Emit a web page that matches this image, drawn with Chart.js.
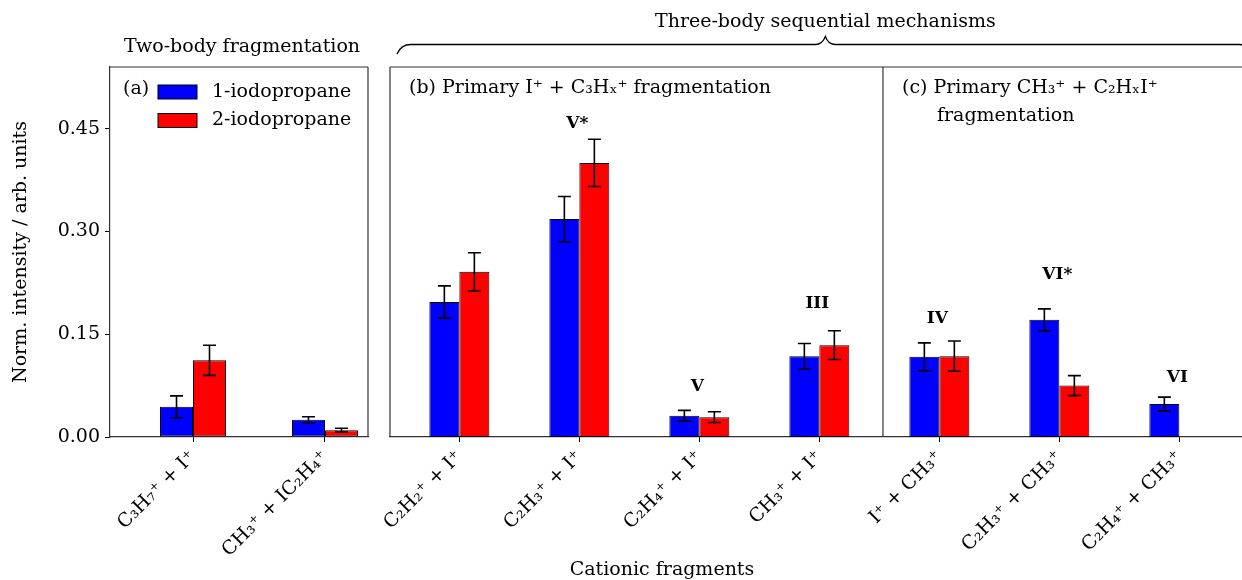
<!DOCTYPE html>
<html>
<head>
<meta charset="utf-8">
<script src="https://cdn.jsdelivr.net/npm/chart.js@4.4.0/dist/chart.umd.min.js"></script>
<style>
  html, body { margin: 0; padding: 0; background: #fff; overflow: hidden; }
  #wrap { position: relative; width: 1242px; height: 580px; overflow: hidden; }
  #chart-a { position: absolute; left: 0; top: 0; }
  #chart-b { position: absolute; left: 380px; top: 0; }
</style>
</head>
<body>
<div id="wrap">
  <canvas id="chart-a" width="380" height="580"></canvas>
  <canvas id="chart-b" width="880" height="580"></canvas>
</div>
<script>
/* ─── Data ─────────────────────────────────────────────── */
const TWO_BODY_LABELS = ['C₃H₇⁺ + I⁺', 'CH₃⁺ + IC₂H₄⁺'];
const TWO_BODY_1      = [0.044, 0.025];
const TWO_BODY_1_ERR  = [0.016, 0.0046];
const TWO_BODY_2      = [0.112, 0.010];
const TWO_BODY_2_ERR  = [0.022, 0.0027];

const THREE_BODY_LABELS = ['C₂H₂⁺ + I⁺', 'C₂H₃⁺ + I⁺', 'C₂H₄⁺ + I⁺', 'CH₃⁺ + I⁺',
                           'I⁺ + CH₃⁺', 'C₂H₃⁺ + CH₃⁺', 'C₂H₄⁺ + CH₃⁺'];
const THREE_BODY_1     = [0.197, 0.318, 0.031, 0.118, 0.117, 0.171, 0.048];
const THREE_BODY_1_ERR = [0.0235, 0.033, 0.0078, 0.0185, 0.0204, 0.016, 0.0102];
const THREE_BODY_2     = [0.241, 0.400, 0.029, 0.134, 0.118, 0.075, 0];
const THREE_BODY_2_ERR = [0.028, 0.0345, 0.0078, 0.021, 0.022, 0.0146, 0];

const MECH_LABELS = ['', 'V*', 'V', 'III', 'IV', 'VI*', 'VI'];
const MECH_Y      = [null, 0.457, 0.073, 0.194, 0.173, 0.237, 0.087];

const SERIES = ['1-iodopropane', '2-iodopropane'];
const Y_TICKS = [0, 0.15, 0.30, 0.45];

/* ─── Style ────────────────────────────────────────────── */
const FONT   = "'DejaVu Serif', serif";
const BLUE   = '#0000ff';
const RED    = '#ff0000';
const SPINE  = '#333333';
const FS     = 19;

Chart.defaults.font.family = FONT;
Chart.defaults.color = '#000';
Chart.defaults.animation = false;

/* ─── Helpers ──────────────────────────────────────────── */
function toPoints(vals) { return vals.map((v, i) => ({ x: i, y: v })); }

function barSet(label, vals, errs, color) {
  return {
    label,
    data: toPoints(vals),
    errors: errs,
    backgroundColor: color,
    borderColor: '#000',
    borderWidth: 1,
    borderSkipped: false,
    categoryPercentage: 0.5,
    barPercentage: 1,
  };
}

// error bars drawn through the chart's own scales
const errorBars = {
  id: 'errorBars',
  afterDatasetsDraw(chart) {
    const ctx = chart.ctx, ys = chart.scales.y;
    ctx.save();
    ctx.strokeStyle = '#000';
    ctx.lineWidth = 1.6;
    chart.data.datasets.forEach((ds, di) => {
      const meta = chart.getDatasetMeta(di);
      meta.data.forEach((bar, i) => {
        const err = ds.errors[i];
        if (!err) return;
        const v = ds.data[i].y;
        const top = ys.getPixelForValue(v + err);
        const bot = ys.getPixelForValue(v - err);
        ctx.beginPath();
        ctx.moveTo(bar.x, top); ctx.lineTo(bar.x, bot);
        ctx.moveTo(bar.x - 6.5, top); ctx.lineTo(bar.x + 6.5, top);
        ctx.moveTo(bar.x - 6.5, bot); ctx.lineTo(bar.x + 6.5, bot);
        ctx.stroke();
      });
    });
    ctx.restore();
  },
};

function frameLines(chart, sides) {
  const { left, right, top, bottom } = chart.chartArea;
  const ctx = chart.ctx;
  ctx.save();
  ctx.strokeStyle = SPINE;
  ctx.lineWidth = 1.2;
  ctx.beginPath();
  if (sides.includes('t')) { ctx.moveTo(left, top); ctx.lineTo(right, top); }
  if (sides.includes('r')) { ctx.moveTo(right, top); ctx.lineTo(right, bottom); }
  if (sides.includes('l')) { ctx.moveTo(left, top); ctx.lineTo(left, bottom); }
  ctx.stroke();
  ctx.restore();
}

function text(ctx, str, x, y, font, align) {
  ctx.font = font;
  ctx.textAlign = align || 'left';
  ctx.textBaseline = 'middle';
  ctx.fillStyle = '#000';
  ctx.fillText(str, x, y);
}

function xScale(min, max, labels) {
  return {
    type: 'linear',
    min, max,
    offset: false,
    afterBuildTicks: axis => { axis.ticks = labels.map((_, i) => ({ value: i })); },
    afterFit: axis => { axis.height = 143; },
    border: { display: true, color: SPINE, width: 1.2 },
    grid: { drawOnChartArea: false, drawTicks: true, tickLength: 5, tickColor: '#000', offset: false },
    ticks: {
      autoSkip: false,
      minRotation: 45, maxRotation: 45,
      padding: 4,
      font: { size: FS },
      callback: v => labels[v] ?? '',
    },
  };
}

/* ─── Panel (a): two-body ──────────────────────────────── */
const decorA = {
  id: 'decorA',
  afterDraw(chart) {
    frameLines(chart, 'tr');
    const ctx = chart.ctx;
    ctx.save();
    text(ctx, 'Two-body fragmentation', 242, 47, `${FS}px ${FONT}`, 'center');
    text(ctx, '(a)', 123, 89, `${FS}px ${FONT}`);
    // legend
    [BLUE, RED].forEach((c, i) => {
      const y = 85 + i * 28.5;
      ctx.fillStyle = c;
      ctx.fillRect(158, y, 39, 14);
      ctx.strokeStyle = '#000';
      ctx.lineWidth = 1;
      ctx.strokeRect(158, y, 39, 14);
      text(ctx, SERIES[i], 212, y + 7, `${FS}px ${FONT}`);
    });
    ctx.restore();
  },
};

new Chart(document.getElementById('chart-a'), {
  type: 'bar',
  data: {
    datasets: [
      barSet(SERIES[0], TWO_BODY_1, TWO_BODY_1_ERR, BLUE),
      barSet(SERIES[1], TWO_BODY_2, TWO_BODY_2_ERR, RED),
    ],
  },
  options: {
    responsive: false,
    layout: { padding: { left: 0, right: 12, top: 67, bottom: 0 } },
    plugins: { legend: { display: false }, tooltip: { enabled: false } },
    scales: {
      x: xScale(-0.629, 1.326, TWO_BODY_LABELS),
      y: {
        min: 0, max: 0.54,
        afterBuildTicks: axis => { axis.ticks = Y_TICKS.map(v => ({ value: v })); },
        afterFit: axis => { axis.width = 110; },
        border: { display: true, color: SPINE, width: 1.2 },
        grid: { drawOnChartArea: false, tickLength: 5, tickColor: '#000' },
        ticks: { padding: 5, font: { size: FS }, callback: v => v.toFixed(2) },
        title: {
          display: true,
          text: 'Norm. intensity / arb. units',
          font: { size: FS },
          padding: { top: 10, bottom: 0 },
        },
      },
    },
  },
  plugins: [errorBars, decorA],
});

/* ─── Panels (b) + (c): three-body ─────────────────────── */
const DIVIDER_X = 3.53;
const BRACE = { from: -0.52, tip: 3.05, to: 6.62 };

const decorB = {
  id: 'decorB',
  afterDraw(chart) {
    frameLines(chart, 'tl');
    const ctx = chart.ctx, xs = chart.scales.x, ys = chart.scales.y;
    const { top, bottom } = chart.chartArea;
    ctx.save();
    // divider between (b) and (c)
    ctx.strokeStyle = SPINE;
    ctx.lineWidth = 1.2;
    const dx = xs.getPixelForValue(DIVIDER_X);
    ctx.beginPath(); ctx.moveTo(dx, top); ctx.lineTo(dx, bottom); ctx.stroke();

    // mechanism labels
    MECH_LABELS.forEach((lab, i) => {
      if (!lab) return;
      text(ctx, lab, xs.getPixelForValue(i) - 2, ys.getPixelForValue(MECH_Y[i]), `bold 17px ${FONT}`, 'center');
    });

    // panel captions
    text(ctx, '(b) Primary I⁺ + C₃Hₓ⁺ fragmentation', 29, 88, `${FS}px ${FONT}`);
    text(ctx, '(c) Primary CH₃⁺ + C₂HₓI⁺', 522, 88, `${FS}px ${FONT}`);
    text(ctx, 'fragmentation', 557, 116, `${FS}px ${FONT}`);

    // brace + group title
    const L = xs.getPixelForValue(BRACE.from);
    const M = xs.getPixelForValue(BRACE.tip);
    const R = xs.getPixelForValue(BRACE.to);
    const yb = 44.5;
    ctx.strokeStyle = '#000';
    ctx.lineWidth = 1.3;
    ctx.beginPath();
    ctx.moveTo(L, 54);
    ctx.quadraticCurveTo(L + 4, yb, L + 14, yb);
    ctx.lineTo(M - 10, yb);
    ctx.quadraticCurveTo(M - 3, yb, M, yb - 8);
    ctx.quadraticCurveTo(M + 3, yb, M + 10, yb);
    ctx.lineTo(R - 14, yb);
    ctx.quadraticCurveTo(R - 4, yb, R, 54);
    ctx.stroke();
    text(ctx, 'Three-body sequential mechanisms', M, 22, `${FS}px ${FONT}`, 'center');

    // shared x title
    text(ctx, 'Cationic fragments', 662 - 380, 570, `${FS}px ${FONT}`, 'center');
    ctx.restore();
  },
};

new Chart(document.getElementById('chart-b'), {
  type: 'bar',
  data: {
    datasets: [
      barSet(SERIES[0], THREE_BODY_1, THREE_BODY_1_ERR, BLUE),
      barSet(SERIES[1], THREE_BODY_2, THREE_BODY_2_ERR, RED),
    ],
  },
  options: {
    responsive: false,
    layout: { padding: { left: 10, right: 11.3, top: 67, bottom: 0 } },
    plugins: { legend: { display: false }, tooltip: { enabled: false } },
    scales: {
      x: xScale(-0.578, 6.578, THREE_BODY_LABELS),
      y: { display: false, min: 0, max: 0.54 },
    },
  },
  plugins: [errorBars, decorB],
});
</script>
</body>
</html>
